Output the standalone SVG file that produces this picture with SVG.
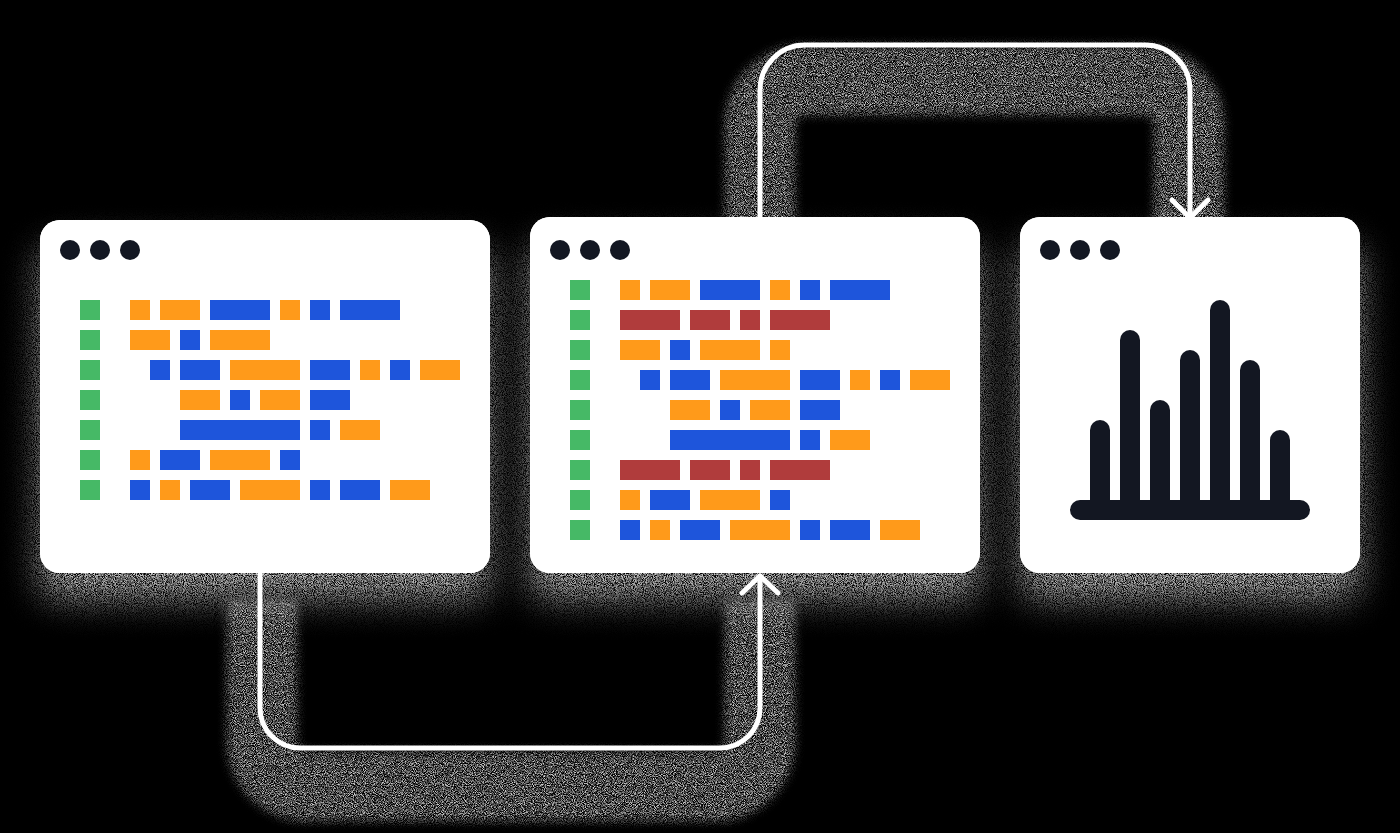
<svg xmlns="http://www.w3.org/2000/svg" width="1400" height="833" viewBox="0 0 1400 833">
<defs>
<style>
.win{fill:#ffffff}
.dot{fill:#131722}
.g{fill:#46b966}
.o{fill:#ff9a1a}
.b{fill:#1e55db}
.r{fill:#b03c3c}
.bar{stroke:#131722;stroke-width:20;stroke-linecap:round;fill:none}
.conn{fill:none;stroke:#ffffff;stroke-width:5;stroke-linecap:round;stroke-linejoin:round}
.cshadow{fill:none;stroke:#ffffff;stroke-width:70;stroke-linejoin:round}
</style>
<filter id="grainShadow" x="-15%" y="-15%" width="130%" height="150%">
  <feGaussianBlur in="SourceAlpha" stdDeviation="17" result="blur"/>
  <feOffset in="blur" dy="26" result="off"/>
  <feTurbulence type="fractalNoise" baseFrequency="1.1" numOctaves="1" seed="4" result="noise"/>
  <feColorMatrix in="noise" type="matrix" values="0 0 0 0 0.65  0 0 0 0 0.65  0 0 0 0 0.65  3.2 0 0 0 -1.05" result="grain"/>
  <feComposite in="grain" in2="off" operator="in" result="shadow"/>
  <feMerge><feMergeNode in="shadow"/><feMergeNode in="SourceGraphic"/></feMerge>
</filter>
<filter id="grainBand" x="-10%" y="-10%" width="120%" height="120%">
  <feGaussianBlur in="SourceAlpha" stdDeviation="5" result="blur"/>
  <feTurbulence type="fractalNoise" baseFrequency="1.1" numOctaves="1" seed="7" result="noise"/>
  <feColorMatrix in="noise" type="matrix" values="0 0 0 0 0.62  0 0 0 0 0.62  0 0 0 0 0.62  3 0 0 0 -1.15" result="grain"/>
  <feComposite in="grain" in2="blur" operator="in"/>
</filter>
</defs>
<rect x="0" y="0" width="1400" height="833" fill="#000000"/>

<g id="connector-shadows" filter="url(#grainBand)">
  <path class="cshadow" d="M262,600 V742 A44,44 0 0 0 306,786 H716 A44,44 0 0 0 760,742 V600"/>
  <path class="cshadow" d="M760,240 V124 A44,44 0 0 1 804,80 H1145 A44,44 0 0 1 1189,124 V240"/>
</g>

<g id="window-shadows" filter="url(#grainShadow)">
  <rect x="40" y="220" width="450" height="353" rx="20" fill="#ffffff"/>
  <rect x="530" y="217" width="450" height="356" rx="20" fill="#ffffff"/>
  <rect x="1020" y="217" width="340" height="356" rx="20" fill="#ffffff"/>
</g>

<g id="win-source">
  <rect class="win" x="40" y="220" width="450" height="353" rx="20"/>
  <circle class="dot" cx="70" cy="250" r="10"/>
  <circle class="dot" cx="100" cy="250" r="10"/>
  <circle class="dot" cx="130" cy="250" r="10"/>
  <rect class="g" x="80" y="300" width="20" height="20"/>
  <rect class="g" x="80" y="330" width="20" height="20"/>
  <rect class="g" x="80" y="360" width="20" height="20"/>
  <rect class="g" x="80" y="390" width="20" height="20"/>
  <rect class="g" x="80" y="420" width="20" height="20"/>
  <rect class="g" x="80" y="450" width="20" height="20"/>
  <rect class="g" x="80" y="480" width="20" height="20"/>
  <rect class="o" x="130" y="300" width="20" height="20"/>
  <rect class="o" x="160" y="300" width="40" height="20"/>
  <rect class="b" x="210" y="300" width="60" height="20"/>
  <rect class="o" x="280" y="300" width="20" height="20"/>
  <rect class="b" x="310" y="300" width="20" height="20"/>
  <rect class="b" x="340" y="300" width="60" height="20"/>
  <rect class="o" x="130" y="330" width="40" height="20"/>
  <rect class="b" x="180" y="330" width="20" height="20"/>
  <rect class="o" x="210" y="330" width="60" height="20"/>
  <rect class="b" x="150" y="360" width="20" height="20"/>
  <rect class="b" x="180" y="360" width="40" height="20"/>
  <rect class="o" x="230" y="360" width="70" height="20"/>
  <rect class="b" x="310" y="360" width="40" height="20"/>
  <rect class="o" x="360" y="360" width="20" height="20"/>
  <rect class="b" x="390" y="360" width="20" height="20"/>
  <rect class="o" x="420" y="360" width="40" height="20"/>
  <rect class="o" x="180" y="390" width="40" height="20"/>
  <rect class="b" x="230" y="390" width="20" height="20"/>
  <rect class="o" x="260" y="390" width="40" height="20"/>
  <rect class="b" x="310" y="390" width="40" height="20"/>
  <rect class="b" x="180" y="420" width="120" height="20"/>
  <rect class="b" x="310" y="420" width="20" height="20"/>
  <rect class="o" x="340" y="420" width="40" height="20"/>
  <rect class="o" x="130" y="450" width="20" height="20"/>
  <rect class="b" x="160" y="450" width="40" height="20"/>
  <rect class="o" x="210" y="450" width="60" height="20"/>
  <rect class="b" x="280" y="450" width="20" height="20"/>
  <rect class="b" x="130" y="480" width="20" height="20"/>
  <rect class="o" x="160" y="480" width="20" height="20"/>
  <rect class="b" x="190" y="480" width="40" height="20"/>
  <rect class="o" x="240" y="480" width="60" height="20"/>
  <rect class="b" x="310" y="480" width="20" height="20"/>
  <rect class="b" x="340" y="480" width="40" height="20"/>
  <rect class="o" x="390" y="480" width="40" height="20"/>
</g>

<g id="win-transformed">
  <rect class="win" x="530" y="217" width="450" height="356" rx="20"/>
  <circle class="dot" cx="560" cy="250" r="10"/>
  <circle class="dot" cx="590" cy="250" r="10"/>
  <circle class="dot" cx="620" cy="250" r="10"/>
  <rect class="g" x="570" y="280" width="20" height="20"/>
  <rect class="g" x="570" y="310" width="20" height="20"/>
  <rect class="g" x="570" y="340" width="20" height="20"/>
  <rect class="g" x="570" y="370" width="20" height="20"/>
  <rect class="g" x="570" y="400" width="20" height="20"/>
  <rect class="g" x="570" y="430" width="20" height="20"/>
  <rect class="g" x="570" y="460" width="20" height="20"/>
  <rect class="g" x="570" y="490" width="20" height="20"/>
  <rect class="g" x="570" y="520" width="20" height="20"/>
  <rect class="o" x="620" y="280" width="20" height="20"/>
  <rect class="o" x="650" y="280" width="40" height="20"/>
  <rect class="b" x="700" y="280" width="60" height="20"/>
  <rect class="o" x="770" y="280" width="20" height="20"/>
  <rect class="b" x="800" y="280" width="20" height="20"/>
  <rect class="b" x="830" y="280" width="60" height="20"/>
  <rect class="r" x="620" y="310" width="60" height="20"/>
  <rect class="r" x="690" y="310" width="40" height="20"/>
  <rect class="r" x="740" y="310" width="20" height="20"/>
  <rect class="r" x="770" y="310" width="60" height="20"/>
  <rect class="o" x="620" y="340" width="40" height="20"/>
  <rect class="b" x="670" y="340" width="20" height="20"/>
  <rect class="o" x="700" y="340" width="60" height="20"/>
  <rect class="o" x="770" y="340" width="20" height="20"/>
  <rect class="b" x="640" y="370" width="20" height="20"/>
  <rect class="b" x="670" y="370" width="40" height="20"/>
  <rect class="o" x="720" y="370" width="70" height="20"/>
  <rect class="b" x="800" y="370" width="40" height="20"/>
  <rect class="o" x="850" y="370" width="20" height="20"/>
  <rect class="b" x="880" y="370" width="20" height="20"/>
  <rect class="o" x="910" y="370" width="40" height="20"/>
  <rect class="o" x="670" y="400" width="40" height="20"/>
  <rect class="b" x="720" y="400" width="20" height="20"/>
  <rect class="o" x="750" y="400" width="40" height="20"/>
  <rect class="b" x="800" y="400" width="40" height="20"/>
  <rect class="b" x="670" y="430" width="120" height="20"/>
  <rect class="b" x="800" y="430" width="20" height="20"/>
  <rect class="o" x="830" y="430" width="40" height="20"/>
  <rect class="r" x="620" y="460" width="60" height="20"/>
  <rect class="r" x="690" y="460" width="40" height="20"/>
  <rect class="r" x="740" y="460" width="20" height="20"/>
  <rect class="r" x="770" y="460" width="60" height="20"/>
  <rect class="o" x="620" y="490" width="20" height="20"/>
  <rect class="b" x="650" y="490" width="40" height="20"/>
  <rect class="o" x="700" y="490" width="60" height="20"/>
  <rect class="b" x="770" y="490" width="20" height="20"/>
  <rect class="b" x="620" y="520" width="20" height="20"/>
  <rect class="o" x="650" y="520" width="20" height="20"/>
  <rect class="b" x="680" y="520" width="40" height="20"/>
  <rect class="o" x="730" y="520" width="60" height="20"/>
  <rect class="b" x="800" y="520" width="20" height="20"/>
  <rect class="b" x="830" y="520" width="40" height="20"/>
  <rect class="o" x="880" y="520" width="40" height="20"/>
</g>

<g id="win-chart">
  <rect class="win" x="1020" y="217" width="340" height="356" rx="20"/>
  <circle class="dot" cx="1050" cy="250" r="10"/>
  <circle class="dot" cx="1080" cy="250" r="10"/>
  <circle class="dot" cx="1110" cy="250" r="10"/>
  <line class="bar" x1="1100" y1="430" x2="1100" y2="505"/>
  <line class="bar" x1="1130" y1="340" x2="1130" y2="505"/>
  <line class="bar" x1="1160" y1="410" x2="1160" y2="505"/>
  <line class="bar" x1="1190" y1="360" x2="1190" y2="505"/>
  <line class="bar" x1="1220" y1="310" x2="1220" y2="505"/>
  <line class="bar" x1="1250" y1="370" x2="1250" y2="505"/>
  <line class="bar" x1="1280" y1="440" x2="1280" y2="505"/>
  <line class="bar" x1="1080" y1="510" x2="1300" y2="510"/>
</g>

<g id="connectors">
  <path class="conn" d="M260,573 V708 A40,40 0 0 0 300,748 H720 A40,40 0 0 0 760,708 V576"/>
  <path class="conn" d="M742,593 L760,576 L778,593"/>
  <path class="conn" d="M760,217 V90 A45,45 0 0 1 805,45 H1145 A45,45 0 0 1 1190,90 V218"/>
  <path class="conn" d="M1172,200 L1190,218 L1208,200"/>
</g>
</svg>
